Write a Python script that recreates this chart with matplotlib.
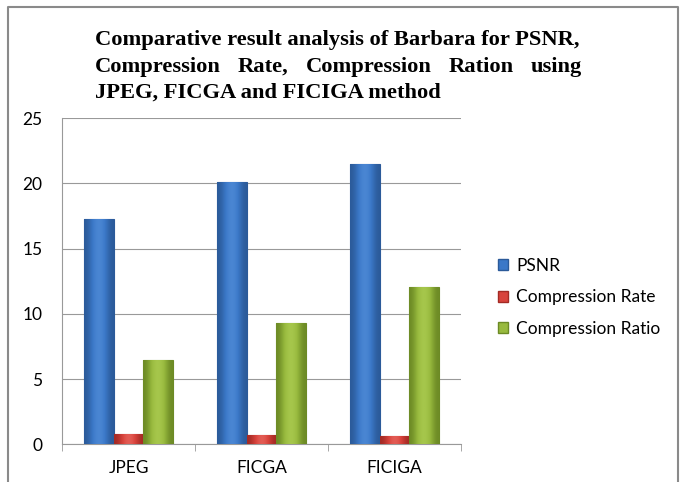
import numpy as np
import matplotlib
matplotlib.use('Agg')
import matplotlib.pyplot as plt
from matplotlib.lines import Line2D
from matplotlib.patches import Patch

# data
methods = ["JPEG", "FICGA", "FICIGA"]
psnr = [17.3, 20.1, 21.5]
comp_rate = [0.8, 0.7, 0.6]
comp_ratio = [6.45, 9.3, 12.1]
series_names = ["PSNR", "Compression Rate", "Compression Ratio"]
yticks = [0, 5, 10, 15, 20, 25]

colors = ["#3b78c8", "#d8433c", "#98ba3e"]
dark = ["#2b5a99", "#a32a24", "#6c8a25"]
light = ["#5c98e0", "#ef7a72", "#b7d65c"]

plt.rcParams['font.family'] = ['Lato', 'DejaVu Sans']
fig = plt.figure(figsize=(6.86, 4.82), dpi=100)
ax = fig.add_axes([0.0904, 0.0782, 0.5816, 0.6764])

x = np.arange(len(methods))
w = 0.225
for i, vals in enumerate([psnr, comp_rate, comp_ratio]):
    bars = ax.bar(x + (i - 1) * w, vals, w, color=colors[i], edgecolor=dark[i],
                  linewidth=0.8, zorder=3, label=series_names[i])
    # cylinder-like shading
    grad = np.array([[0.0, 0.55, 0.8, 0.55, 0.0]])
    cmap = matplotlib.colors.LinearSegmentedColormap.from_list("c", [dark[i], colors[i], light[i]])
    for b in bars:
        x0, y0 = b.get_x(), b.get_y()
        im = ax.imshow(grad, cmap=cmap, vmin=0, vmax=1, aspect='auto', interpolation='bicubic',
                       extent=[x0, x0 + b.get_width(), y0, y0 + b.get_height()], zorder=3.5)
        im.set_clip_path(b)

ax.set_xlim(-0.5, 2.5)
ax.set_ylim(0, 25)
ax.set_yticks(yticks)
ax.set_xticks(x)
ax.set_xticklabels(methods)
ax.set_xticks([-0.5, 0.5, 1.5, 2.5], minor=True)
ax.tick_params(axis='x', which='major', length=0, pad=11, labelsize=12.5)
ax.tick_params(axis='x', which='minor', length=5, color='#999999', direction='out')
ax.tick_params(axis='y', length=0, pad=14, labelsize=12.5)
ax.grid(axis='y', color='#999999', linewidth=0.8, zorder=0)
for s in ['top', 'right']:
    ax.spines[s].set_visible(False)
ax.spines['left'].set_color('#999999')
ax.spines['bottom'].set_color('#999999')

handles = [Patch(facecolor=colors[i], edgecolor=dark[i]) for i in range(3)]
leg = fig.legend(handles, series_names, loc='upper left', bbox_to_anchor=(0.703, 0.498),
                 frameon=False, fontsize=12.5, handlelength=0.6, handleheight=0.6,
                 handletextpad=0.45, labelspacing=0.9)

# title, justified
title_lines = ["Comparative result analysis of Barbara for PSNR,",
               "Compression Rate, Compression Ration using",
               "JPEG, FICGA and FICIGA method"]
tx0, tx1 = 95 / 686, 582 / 686
ys = [1 - 40 / 482, 1 - 67 / 482, 1 - 93 / 482]
tfont = dict(family='Liberation Serif', weight='bold', size=16.2, va='center')
fig.canvas.draw()
r = fig.canvas.get_renderer()
for k, line in enumerate(title_lines):
    if k != 1:
        fig.text(tx0, ys[k], line, ha='left', **tfont)
        continue
    words = line.split()
    texts = [fig.text(0, ys[k], wd, ha='left', **tfont) for wd in words]
    widths = [t.get_window_extent(r).width / fig.bbox.width for t in texts]
    gap = (tx1 - tx0 - sum(widths)) / (len(words) - 1)
    pos = tx0
    for t, wd in zip(texts, widths):
        t.set_x(pos)
        pos += wd + gap

# outer frame
fx = [8 / 686, 8 / 686, 678 / 686, 678 / 686]
fy = [0, 1 - 7 / 482, 1 - 7 / 482, 0]
fig.add_artist(Line2D(fx, fy, transform=fig.transFigure, color='#8a8a8a', linewidth=1.5))

fig.savefig("out.png", dpi=100)
